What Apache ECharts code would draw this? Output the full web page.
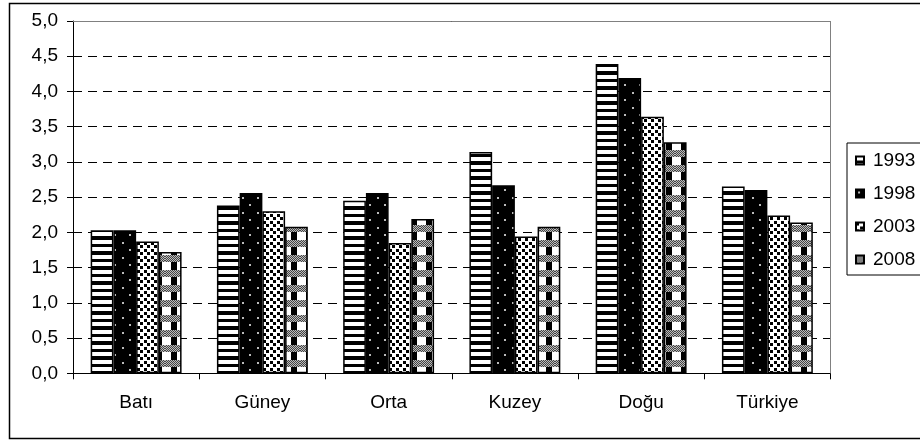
<!DOCTYPE html>
<html>
<head>
<meta charset="utf-8">
<script src="https://cdn.jsdelivr.net/npm/echarts@6/dist/echarts.min.js"></script>
<style>
  html, body { margin: 0; padding: 0; background: #fff; }
  #chart { width: 920px; height: 441px; }
</style>
</head>
<body>
<div id="chart"></div>
<script>
// bölgeler ve yıllar
var regions = ["Batı", "Güney", "Orta", "Kuzey", "Doğu", "Türkiye"];
var years = ["1993", "1998", "2003", "2008"];
var v1993 = [2.03, 2.38, 2.45, 3.14, 4.39, 2.65];
var v1998 = [2.03, 2.56, 2.56, 2.67, 4.19, 2.60];
var v2003 = [1.87, 2.30, 1.85, 1.94, 3.64, 2.24];
var v2008 = [1.72, 2.08, 2.19, 2.08, 3.28, 2.14];
var yTicks = [0, 0.5, 1, 1.5, 2, 2.5, 3, 3.5, 4, 4.5, 5];

function tile(w, h, draw) {
  var c = document.createElement("canvas");
  c.width = w;
  c.height = h;
  draw(c.getContext("2d"));
  return { image: c, repeat: "repeat" };
}

// yatay çizgili
var pat1993 = tile(8, 15, function (ctx) {
  ctx.fillStyle = "#000";
  ctx.fillRect(0, 0, 8, 15);
  ctx.fillStyle = "#fff";
  ctx.fillRect(0, 0, 8, 4);
  ctx.fillRect(0, 7, 8, 4);
});
// siyah zemin, beyaz noktalar
var pat1998 = tile(15, 15, function (ctx) {
  ctx.fillStyle = "#000";
  ctx.fillRect(0, 0, 15, 15);
  ctx.fillStyle = "#bbb";
  ctx.fillRect(2, 2, 2, 2);
  ctx.fillRect(9, 9, 2, 2);
});
// beyaz zemin, siyah kareler
var pat2003 = tile(7, 7, function (ctx) {
  ctx.fillStyle = "#fff";
  ctx.fillRect(0, 0, 7, 7);
  ctx.fillStyle = "#000";
  ctx.fillRect(0, 0, 3, 3);
  ctx.fillRect(4, 4, 3, 3);
});
// gri bantlar ve siyah bloklar
var pat2008 = tile(15, 15, function (ctx) {
  ctx.fillStyle = "#fff";
  ctx.fillRect(0, 0, 15, 15);
  for (var y = 0; y < 7; y++) {
    for (var x = 0; x < 15; x++) {
      ctx.fillStyle = (x + y) % 2 ? "#444" : "#bbb";
      ctx.fillRect(x, y, 1, 1);
    }
  }
  ctx.fillStyle = "#000";
  ctx.fillRect(6, 7, 6, 8);
});

var patterns = [pat1993, pat1998, pat2003, pat2008];
var values = [v1993, v1998, v2003, v2008];

var gridLeft = 73, gridTop = 21, gridRight = 89.5, gridBottom = 67.7;
var fontFam = "'Liberation Sans', Arial, sans-serif";

var chart = echarts.init(document.getElementById("chart"));

var series = years.map(function (y, i) {
  return {
    name: y,
    type: "bar",
    data: values[i],
    barGap: "0%",
    barCategoryGap: "28%",
    itemStyle: {
      color: patterns[i],
      borderColor: "#000",
      borderWidth: 1.5,
    },
  };
});

var option = {
  animation: false,
  backgroundColor: "#fff",
  textStyle: { fontFamily: fontFam },
  grid: {
    left: gridLeft,
    top: gridTop,
    right: gridRight,
    bottom: gridBottom,
  },
  legend: {
    orient: "vertical",
    left: 847,
    top: 143,
    padding: [8, 10, 6, 8],
    borderColor: "#000",
    borderWidth: 1,
    itemWidth: 8,
    itemHeight: 8,
    itemGap: 14,
    icon: "rect",
    data: years,
    textStyle: { fontSize: 19, color: "#000", fontFamily: fontFam, padding: [0, 0, 0, 4] },
  },
  xAxis: {
    type: "category",
    data: regions,
    axisLine: { lineStyle: { color: "#000", width: 1 } },
    axisTick: { show: true, length: 6, lineStyle: { color: "#000" } },
    axisLabel: { color: "#000", fontSize: 19, margin: 20, fontFamily: fontFam },
  },
  yAxis: {
    type: "value",
    min: yTicks[0],
    max: yTicks[yTicks.length - 1],
    interval: 0.5,
    axisLine: { show: true, lineStyle: { color: "#000", width: 1 } },
    axisTick: { show: true, length: 6, lineStyle: { color: "#000" } },
    axisLabel: {
      color: "#000",
      fontSize: 19,
      margin: 15,
      fontFamily: fontFam,
      formatter: function (v) {
        return v.toFixed(1).replace(".", ",");
      },
    },
    splitLine: { lineStyle: { color: "#000", type: [9, 6], width: 1 } },
  },
  series: series,
  graphic: [
    {
      // dış çerçeve
      type: "rect",
      shape: { x: 9.5, y: 3.5, width: 930, height: 435 },
      style: { fill: null, stroke: "#000", lineWidth: 1.5 },
      silent: true,
    },
    {
      // çizim alanı üst/sağ kenar
      type: "polyline",
      shape: {
        points: [
          [gridLeft, gridTop + 0.5],
          [920 - gridRight, gridTop + 0.5],
          [920 - gridRight, 441 - gridBottom],
        ],
      },
      style: { fill: null, stroke: "#808080", lineWidth: 1 },
      z: 10,
      silent: true,
    },
  ],
};

chart.setOption(option);
</script>
</body>
</html>
